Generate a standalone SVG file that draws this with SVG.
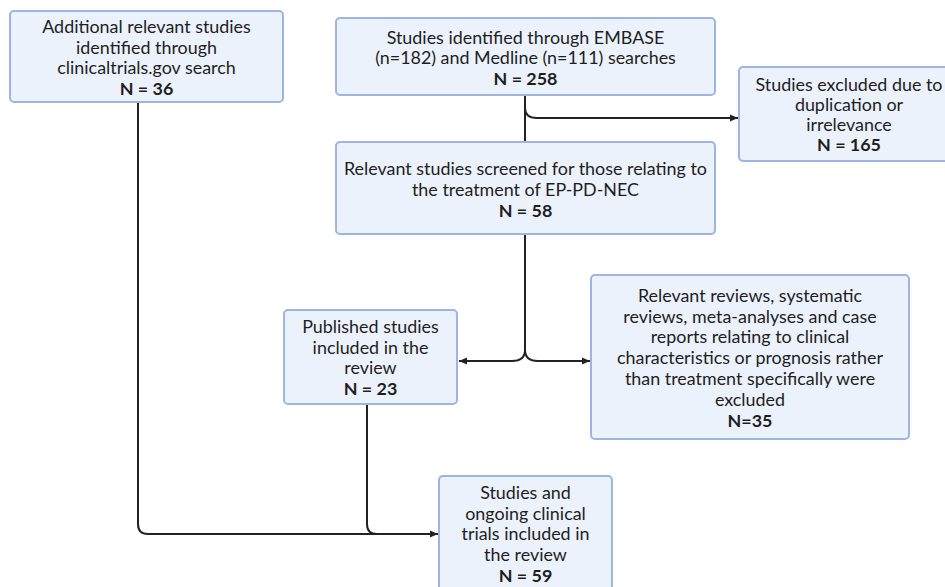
<svg xmlns="http://www.w3.org/2000/svg" width="945" height="587" viewBox="0 0 945 587">
<style>
.box{fill:#ECF2FB;stroke:#9DB5E0;stroke-width:2}
text{font-family:Lato,"Open Sans","Liberation Sans",sans-serif;font-size:17.9px;fill:#1e1e1e;text-anchor:middle}
.b{font-weight:bold}
.c{fill:none;stroke:#222;stroke-width:2}
</style>
<defs>
<marker id="ah" viewBox="0 0 8 8" refX="8" refY="4" markerWidth="8" markerHeight="8" markerUnits="userSpaceOnUse" orient="auto">
<path d="M0,0.5 L8,4 L0,7.5 Z" fill="#222"/>
</marker>
</defs>
<rect width="945" height="587" fill="#fff"/>
<g id="connectors">
<path class="c" d="M525,95 V142"/>
<path class="c" d="M525,108 Q525,118 537,118 H738" marker-end="url(#ah)"/>
<path class="c" d="M525,234 V350 Q525,361 512,361 H459" marker-end="url(#ah)"/>
<path class="c" d="M525,350 Q525,361 538,361 H590" marker-end="url(#ah)"/>
<path class="c" d="M138,102 V524 Q138,534 148,534 H438" marker-end="url(#ah)"/>
<path class="c" d="M367,404 V524 Q367,534 377,534 H400"/>
</g>
<g id="n1">
<rect class="box" x="10" y="11" width="273" height="91" rx="4"/>
<text x="146.5" y="33">Additional relevant studies</text>
<text x="146.5" y="53.5">identified through</text>
<text x="146.5" y="74">clinicaltrials.gov search</text>
<text class="b" x="146.5" y="94.5">N = 36</text>
</g>
<g id="n2">
<rect class="box" x="336" y="18" width="379" height="77" rx="4"/>
<text x="525.5" y="43.5">Studies identified through EMBASE</text>
<text x="525.5" y="64.3">(n=182) and Medline (n=111) searches</text>
<text class="b" x="525.5" y="85">N = 258</text>
</g>
<g id="n3">
<rect class="box" x="336" y="142" width="379" height="92" rx="4"/>
<text x="525.5" y="175">Relevant studies screened for those relating to</text>
<text x="525.5" y="195.8">the treatment of EP-PD-NEC</text>
<text class="b" x="525.5" y="216.6">N = 58</text>
</g>
<g id="n4">
<rect class="box" x="739" y="67" width="220" height="94" rx="4"/>
<text x="849" y="90.5">Studies excluded due to</text>
<text x="849" y="110.8">duplication or</text>
<text x="849" y="131.1">irrelevance</text>
<text class="b" x="849" y="151.4">N = 165</text>
</g>
<g id="n5">
<rect class="box" x="284" y="310" width="173" height="94" rx="4"/>
<text x="370.5" y="333">Published studies</text>
<text x="370.5" y="353.7">included in the</text>
<text x="370.5" y="374.4">review</text>
<text class="b" x="370.5" y="395">N = 23</text>
</g>
<g id="n6">
<rect class="box" x="591" y="275" width="318" height="164" rx="4"/>
<text x="750" y="301.7">Relevant reviews, systematic</text>
<text x="750" y="322.5">reviews, meta-analyses and case</text>
<text x="750" y="343.3">reports relating to clinical</text>
<text x="750" y="364.1">characteristics or prognosis rather</text>
<text x="750" y="384.9">than treatment specifically were</text>
<text x="750" y="405.7">excluded</text>
<text class="b" x="750" y="426.5">N=35</text>
</g>
<g id="n7">
<rect class="box" x="439" y="476" width="173" height="130" rx="4"/>
<text x="525.5" y="499">Studies and</text>
<text x="525.5" y="519.7">ongoing clinical</text>
<text x="525.5" y="540.4">trials included in</text>
<text x="525.5" y="561">the review</text>
<text class="b" x="525.5" y="581.7">N = 59</text>
</g>
</svg>
